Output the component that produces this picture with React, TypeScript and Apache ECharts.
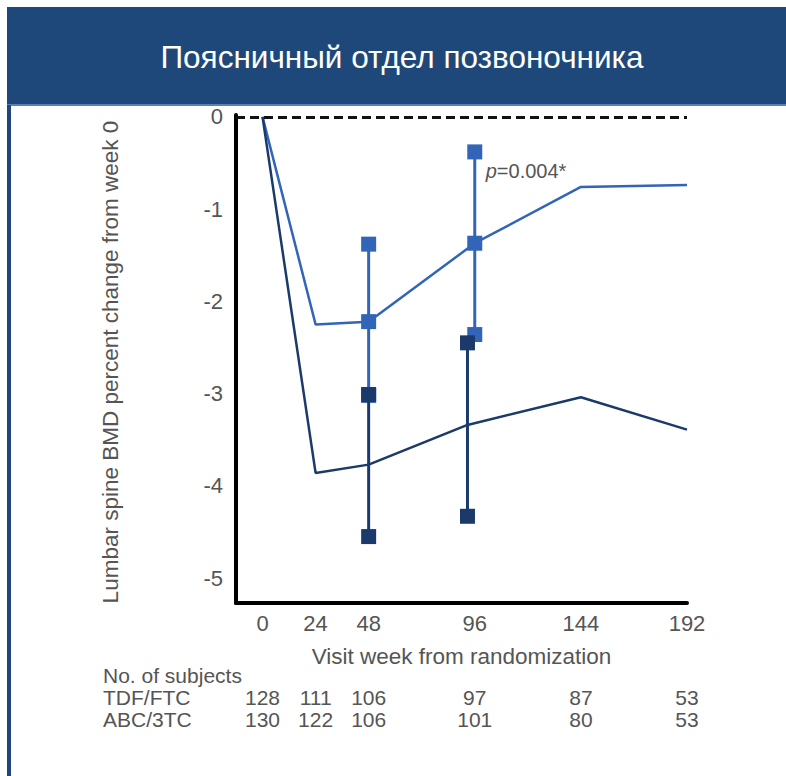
import React, { useEffect, useRef } from "react";
import * as echarts from "echarts";

// Visit weeks and mean percent change in lumbar spine BMD
const weeks = [0, 24, 48, 96, 144, 192];
const tdfMean = [0, -2.25, -2.22, -1.37, -0.76, -0.74];
const abcMean = [0, -3.86, -3.77, -3.34, -3.04, -3.39];

// 95% CI bounds at weeks 48 and 96
const ciWeeks = [48, 96];
const tdfLower = [-3.02, -2.36];
const tdfUpper = [-1.38, -0.38];
const abcLower = [-4.55, -4.33];
const abcUpper = [-3.01, -2.45];

// Number of subjects per visit
const tdfCounts = [128, 111, 106, 97, 87, 53];
const abcCounts = [130, 122, 106, 101, 80, 53];

const yTicks = [0, -1, -2, -3, -4, -5];

const FONT = '"Liberation Sans", Arial, sans-serif';
const GRAY = "#555";
const HEADER = "#1f487a";
const LIGHT = "#3264b8";
const DARK = "#1b3a6b";

// ABC/3TC values at week 96 are drawn slightly to the left so both bars stay visible
const abcX = (w: number) => (w === 96 ? w - 3.3 : w);

function errorBarSeries(
  name: string,
  color: string,
  xs: number[],
  lo: number[],
  hi: number[]
) {
  return {
    name,
    type: "custom",
    data: xs.map((w, i) => [w, lo[i], hi[i]]),
    renderItem: (_params: any, api: any) => {
      const pLo = api.coord([api.value(0), api.value(1)]);
      const pHi = api.coord([api.value(0), api.value(2)]);
      const s = 15;
      return {
        type: "group",
        children: [
          {
            type: "line",
            shape: { x1: pLo[0], y1: pLo[1], x2: pHi[0], y2: pHi[1] },
            style: { stroke: color, lineWidth: 3 },
          },
          {
            type: "rect",
            shape: { x: pLo[0] - s / 2, y: pLo[1] - s / 2, width: s, height: s },
            style: { fill: color },
          },
          {
            type: "rect",
            shape: { x: pHi[0] - s / 2, y: pHi[1] - s / 2, width: s, height: s },
            style: { fill: color },
          },
        ],
      };
    },
  };
}

export default function App() {
  const ref = useRef<HTMLDivElement>(null);

  useEffect(() => {
    if (!ref.current) return;
    const chart = echarts.init(ref.current, undefined, { renderer: "svg" });

    const tdfLine = weeks.map((w, i) => ({
      value: [w, tdfMean[i]],
      symbol: ciWeeks.includes(w) ? "rect" : "none",
    }));
    const abcLine = weeks.map((w, i) => [abcX(w), abcMean[i]]);

    const option: any = {
      animation: false,
      grid: { left: 236, right: 99, top: 115, bottom: 173 },
      xAxis: {
        type: "value",
        min: -12,
        max: 192,
        axisLine: { onZero: false, lineStyle: { color: "#000", width: 4 } },
        axisTick: { show: false },
        splitLine: { show: false },
        axisLabel: {
          customValues: weeks,
          color: GRAY,
          fontSize: 22,
          fontFamily: FONT,
          margin: 9,
        },
        name: "Visit week from randomization",
        nameLocation: "middle",
        nameGap: 42,
        nameTextStyle: { color: GRAY, fontSize: 22.5, fontFamily: FONT },
      },
      yAxis: {
        type: "value",
        min: -5.27,
        max: 0.02,
        axisLine: { show: true, onZero: false, lineStyle: { color: "#000", width: 4 } },
        axisTick: { show: false },
        splitLine: { show: false },
        axisLabel: {
          customValues: yTicks,
          color: GRAY,
          fontSize: 22,
          fontFamily: FONT,
          margin: 13,
        },
      },
      series: [
        {
          name: "TDF/FTC",
          type: "line",
          data: tdfLine,
          showAllSymbol: true,
          symbolSize: 15,
          itemStyle: { color: LIGHT },
          lineStyle: { color: LIGHT, width: 2.5 },
          markLine: {
            silent: true,
            symbol: "none",
            label: { show: false },
            lineStyle: { color: "#111", width: 3, type: [9, 5] },
            data: [{ yAxis: 0 }],
          },
        },
        errorBarSeries("TDF/FTC CI", LIGHT, ciWeeks, tdfLower, tdfUpper),
        {
          name: "ABC/3TC",
          type: "line",
          data: abcLine,
          showSymbol: false,
          itemStyle: { color: DARK },
          lineStyle: { color: DARK, width: 2.5 },
        },
        errorBarSeries("ABC/3TC CI", DARK, ciWeeks.map(abcX), abcLower, abcUpper),
      ],
    };
    chart.setOption(option);

    const px = (w: number) => chart.convertToPixel({ xAxisIndex: 0 }, w) as number;
    const top = chart.convertToPixel({ gridIndex: 0 }, [96, tdfUpper[1]]) as number[];

    const TABLE_SIZE = 21;
    const textStyle = (text: string, extra: any = {}) => ({
      text,
      fill: GRAY,
      fontSize: TABLE_SIZE,
      fontFamily: FONT,
      lineHeight: TABLE_SIZE,
      ...extra,
    });

    const graphic: any[] = [
      { type: "rect", shape: { x: 7, y: 7, width: 779, height: 98 }, style: { fill: HEADER } },
      { type: "rect", shape: { x: 7, y: 104, width: 779, height: 2 }, style: { fill: "#5b80b3" } },
      { type: "rect", shape: { x: 7, y: 105, width: 4, height: 671 }, style: { fill: HEADER } },
      {
        type: "text",
        x: 402,
        y: 57,
        style: {
          text: "Поясничный отдел позвоночника",
          fill: "#fff",
          fontSize: 31.5,
          fontFamily: FONT,
          align: "center",
          verticalAlign: "middle",
        },
      },
      {
        type: "text",
        x: 110,
        y: 362,
        rotation: Math.PI / 2,
        style: {
          text: "Lumbar spine BMD percent change from week 0",
          fill: GRAY,
          fontSize: 22.5,
          fontFamily: FONT,
          align: "center",
          verticalAlign: "middle",
        },
      },
      {
        type: "text",
        x: top[0] + 11,
        y: top[1] + 19,
        style: {
          text: "{i|p}=0.004*",
          fill: GRAY,
          fontSize: 20,
          fontFamily: FONT,
          align: "left",
          verticalAlign: "middle",
          rich: { i: { fontStyle: "italic", fill: GRAY, fontSize: 20, fontFamily: FONT } },
        },
      },
      {
        type: "text",
        x: 103,
        y: 675.5,
        style: textStyle("No. of subjects", { align: "left", verticalAlign: "middle" }),
      },
      {
        type: "text",
        x: 103,
        y: 697.5,
        style: textStyle("TDF/FTC", { align: "left", verticalAlign: "middle" }),
      },
      {
        type: "text",
        x: 103,
        y: 719,
        style: textStyle("ABC/3TC", { align: "left", verticalAlign: "middle" }),
      },
    ];
    weeks.forEach((w, i) => {
      graphic.push({
        type: "text",
        x: px(w),
        y: 697.5,
        style: textStyle(String(tdfCounts[i]), { align: "center", verticalAlign: "middle" }),
      });
      graphic.push({
        type: "text",
        x: px(w),
        y: 719,
        style: textStyle(String(abcCounts[i]), { align: "center", verticalAlign: "middle" }),
      });
    });

    chart.setOption({ graphic });

    return () => chart.dispose();
  }, []);

  return (
    <div
      ref={ref}
      style={{ position: "fixed", left: 0, top: 0, width: 786, height: 776, background: "#fff" }}
    />
  );
}
